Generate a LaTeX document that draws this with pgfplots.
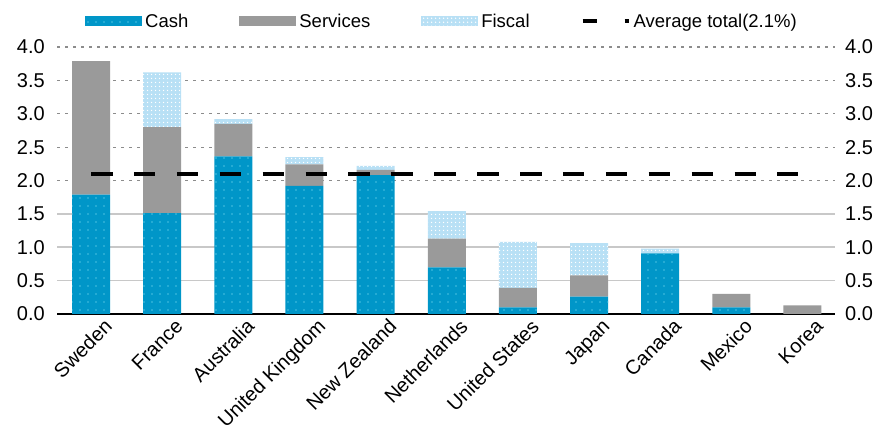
\documentclass[border=0pt]{standalone}
\usepackage{fontspec}
\setmainfont{Liberation Sans}
\usepackage{pgfplots}
\pgfplotsset{compat=1.18}
\usepackage{pgfplotstable}
\usetikzlibrary{patterns.meta}

\definecolor{cash}{HTML}{0096C8}
\definecolor{cashdot}{HTML}{4CC2E2}
\definecolor{serv}{HTML}{9A9A9A}
\definecolor{fisc}{HTML}{B8E0F5}
\definecolor{gridc}{HTML}{C8C8C8}
\newcommand{\lab}{\fontsize{18.5}{21}\selectfont}
\newcommand{\tlab}{\fontsize{20}{22}\selectfont}

% x: position of the country, shares in % of GDP
\pgfplotstableread{
x  cash  services fiscal
0  1.79  2.00     0
1  1.51  1.29     0.82
2  2.36  0.49     0.07
3  1.92  0.32     0.11
4  2.08  0.08     0.06
5  0.70  0.43     0.41
6  0.10  0.29     0.69
7  0.26  0.32     0.48
8  0.91  0        0.07
9  0.10  0.20     0
10 0     0.13     0
}\shares

\pgfplotsset{
  frame/.style={
    at={(57pt,116pt)}, anchor=south west,
    scale only axis, width=778pt, height=267pt,
    xmin=-0.478, xmax=10.457, ymin=0, ymax=4,
    major tick length=0pt,
    tick label style={font=\tlab},
    /pgf/number format/.cd, fixed, fixed zerofill, precision=1, assume math mode=true,
    /pgfplots/.cd,
  },
  patch/.style={legend image code/.code={\path[##1] (0pt,-5pt) rectangle (57pt,5pt);}},
  avgsample/.style={legend image code/.code={\draw[##1, dash pattern=on 14pt off 28pt] (0pt,0pt) -- (46pt,0pt);}},
}

\begin{document}
\begin{tikzpicture}
\useasboundingbox (0,0) rectangle (877pt,430pt);
\begin{axis}[frame,
  ybar stacked, bar width=38pt,
  xtick={0,...,10},
  xticklabels={Sweden, France, Australia, United Kingdom, New Zealand,
    Netherlands, United States, Japan, Canada, Mexico, Korea},
  xticklabel style={rotate=45, anchor=north east, inner sep=0pt, xshift=6pt, yshift=-11pt},
  ytick={0,0.5,1,1.5},
  extra y ticks={2,2.5,3,3.5,4},
  ymajorgrids,
  grid style={gridc, line width=1.6pt},
  extra y tick style={grid style={black!45, line width=1.2pt, dash pattern=on 2.5pt off 5.5pt}},
  axis x line*=bottom, axis y line*=left,
  x axis line style={black, line width=1.6pt, -},
  y axis line style={draw=none},
  yticklabel style={inner sep=0pt, xshift=-12pt},
  legend columns=4,
  legend style={at={(0.036,1.097)}, anchor=west, draw=none, fill=none,
    inner sep=0pt, font=\lab, nodes={inner sep=0pt},
    /tikz/every odd column/.append style={column sep=3pt},
    /tikz/every even column/.append style={column sep=51pt}},
]
\addplot[fill=cash, draw=none, postaction={pattern={Dots[distance=8pt, radius=0.9pt]}, pattern color=cashdot}, patch]
  table[x=x, y=cash] {\shares};
\addlegendentry{Cash}
\addplot[fill=serv, draw=none, patch]
  table[x=x, y=services] {\shares};
\addlegendentry{Services}
\addplot[fill=fisc, draw=none, postaction={pattern={Dots[distance=4pt, radius=0.9pt]}, pattern color=white}, patch]
  table[x=x, y=fiscal] {\shares};
\addlegendentry{Fiscal}
\addlegendimage{black, line width=4pt, avgsample}
\addlegendentry{Average total(2.1\%)}
\end{axis}

\begin{axis}[frame,
  axis x line=none, axis y line*=right,
  y axis line style={draw=none},
  ytick={0,0.5,1,1.5,2,2.5,3,3.5,4},
  yticklabel style={inner sep=0pt, xshift=10pt},
]
\addplot[black, line width=4.5pt, dash pattern=on 21.5pt off 21.4pt]
  coordinates {(0,2.1) (9.93,2.1)};
\end{axis}
\end{tikzpicture}
\end{document}
